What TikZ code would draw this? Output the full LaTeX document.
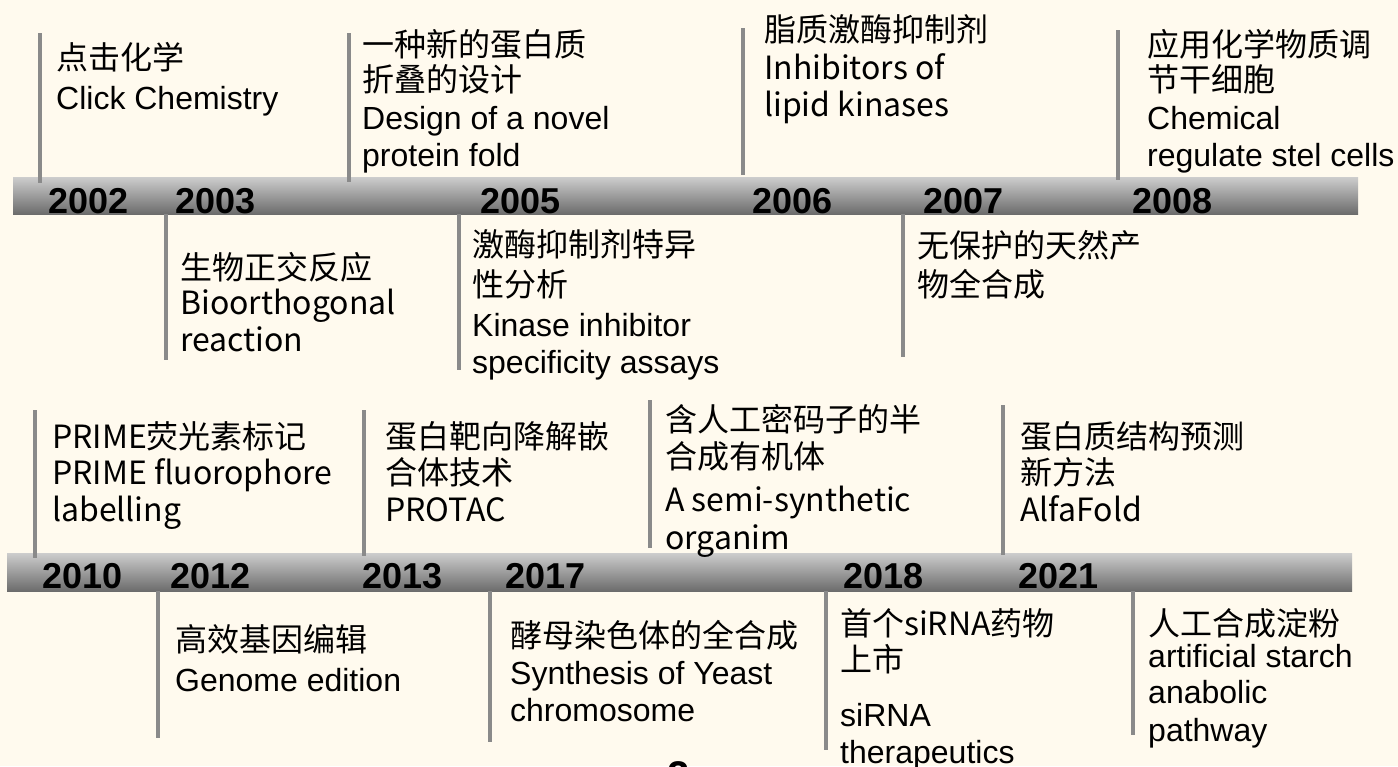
\documentclass[tikz,border=0pt]{standalone}
\usepackage{fontspec}
\setmainfont{Liberation Sans}
\newfontfamily\cjk{Noto Sans CJK SC}
\definecolor{bg}{RGB}{255,250,238}
\definecolor{bartop}{RGB}{205,205,205}
\definecolor{barbot}{RGB}{108,108,108}
\definecolor{tick}{RGB}{138,138,138}
\begin{document}
\begin{tikzpicture}[x=1pt,y=-1pt,
  txt/.style={anchor=base west,inner sep=0pt,align=left,font=\fontsize{32}{37}\selectfont},
  yr/.style={anchor=base west,inner sep=0pt,font=\fontsize{36}{36}\selectfont\bfseries},
  bar/.style={top color=bartop,bottom color=barbot,draw=none},
  tickline/.style={draw=tick,line width=4.5pt}]
\fill[bg] (0,0) rectangle (1398,766);
\useasboundingbox (0,0) rectangle (1398,766);
% bars
\path[bar] (13,177) rectangle (1358,214);
\path[bar] (7,553) rectangle (1352,591);
% tick lines row 1
\coordinate (a1) at (40,33);   \coordinate (a2) at (40,183);
\coordinate (b1) at (349,33);  \coordinate (b2) at (349,182);
\coordinate (c1) at (743,28);  \coordinate (c2) at (743,175);
\coordinate (d1) at (1118,30); \coordinate (d2) at (1118,180);
\coordinate (e1) at (166,214); \coordinate (e2) at (166,360);
\coordinate (f1) at (459,214); \coordinate (f2) at (459,370);
\coordinate (g1) at (903,214); \coordinate (g2) at (903,357);
% tick lines row 2
\coordinate (h1) at (35,410);   \coordinate (h2) at (35,558);
\coordinate (i1) at (364,410);  \coordinate (i2) at (364,556);
\coordinate (j1) at (650,400);  \coordinate (j2) at (650,548);
\coordinate (k1) at (1003,405); \coordinate (k2) at (1003,555);
\coordinate (l1) at (158,591);  \coordinate (l2) at (158,738);
\coordinate (m1) at (490,591);  \coordinate (m2) at (490,742);
\coordinate (n1) at (826,591);  \coordinate (n2) at (826,750);
\coordinate (o1) at (1133,591); \coordinate (o2) at (1133,735);
\foreach \p in {a,b,c,d,e,f,g,h,i,j,k,l,m,n,o}{\draw[tickline] (\p1) -- (\p2);}
% years
\node[yr] (y2002) at (48,213) {2002};
\node[yr] (y2003) at (175,213) {2003};
\node[yr] (y2005) at (480,213) {2005};
\node[yr] (y2006) at (752,213) {2006};
\node[yr] (y2007) at (923,213) {2007};
\node[yr] (y2008) at (1132,213) {2008};
\node[yr] (y2010) at (42,588) {2010};
\node[yr] (y2012) at (170,588) {2012};
\node[yr] (y2013) at (362,588) {2013};
\node[yr] (y2017) at (505,588) {2017};
\node[yr] (y2018) at (843,588) {2018};
\node[yr] (y2021) at (1018,588) {2021};
% texts row 1 (anchor = baseline of last line)
\node[txt] (tA) at (56,109) {{\cjk 点击化学}\\[3pt]Click Chemistry};
\node[txt] (tB) at (362,166) {{\cjk 一种新的蛋白质}\\[-2pt]{\cjk 折叠的设计}\\[1pt]Design of a novel\\protein fold};
\node[txt] (tC) at (764,116) {{\cjk 脂质激酶抑制剂}\\[1pt]{\cjk Inhibitors of}\\{\cjk lipid kinases}};
\node[txt] (tD) at (1147,166) {{\cjk 应用化学物质调}\\[-2pt]{\cjk 节干细胞}\\[1pt]Chemical\\regulate stel cells};
\node[txt] (tE) at (180,351) {{\cjk 生物正交反应}\\[-2pt]{\cjk Bioorthogonal}\\{\cjk reaction}};
\node[txt] (tF) at (472,373) {{\cjk 激酶抑制剂特异}\\[3pt]{\cjk 性分析}\\[3pt]Kinase inhibitor\\specificity assays};
\node[txt] (tG) at (917,296) {{\cjk 无保护的天然产}\\[2pt]{\cjk 物全合成}};
% texts row 2
\node[txt] (tH) at (52,521) {{\cjk PRIME荧光素标记}\\[-1pt]{\cjk PRIME fluorophore}\\{\cjk labelling}};
\node[txt] (tI) at (385,521) {{\cjk 蛋白靶向降解嵌}\\[-1pt]{\cjk 合体技术}\\{\cjk PROTAC}};
\node[txt] (tJ) at (665,549) {{\cjk 含人工密码子的半}\\{\cjk 合成有机体}\\[6pt]{\cjk A semi-synthetic}\\[1pt]{\cjk organim}};
\node[txt] (tK) at (1020,521) {{\cjk 蛋白质结构预测}\\[-1pt]{\cjk 新方法}\\{\cjk AlfaFold}};
\node[txt] (tL) at (175,691) {{\cjk 高效基因编辑}\\[3pt]Genome edition};
\node[txt] (tM) at (510,721) {{\cjk 酵母染色体的全合成}\\Synthesis of Yeast\\chromosome};
\node[txt] (tN) at (840,763) {{\cjk 首个siRNA药物}\\[-1pt]{\cjk 上市}\\[18pt]siRNA\\therapeutics};
\node[txt] (tO) at (1148,741) {{\cjk 人工合成淀粉}\\[-5pt]artificial starch\\[-1pt]anabolic\\[1pt]pathway};
% page number (cut off)
\node[anchor=base west,inner sep=0pt,font=\fontsize{40}{40}\selectfont\bfseries] (pg) at (667,789) {2};
\end{tikzpicture}
\end{document}
